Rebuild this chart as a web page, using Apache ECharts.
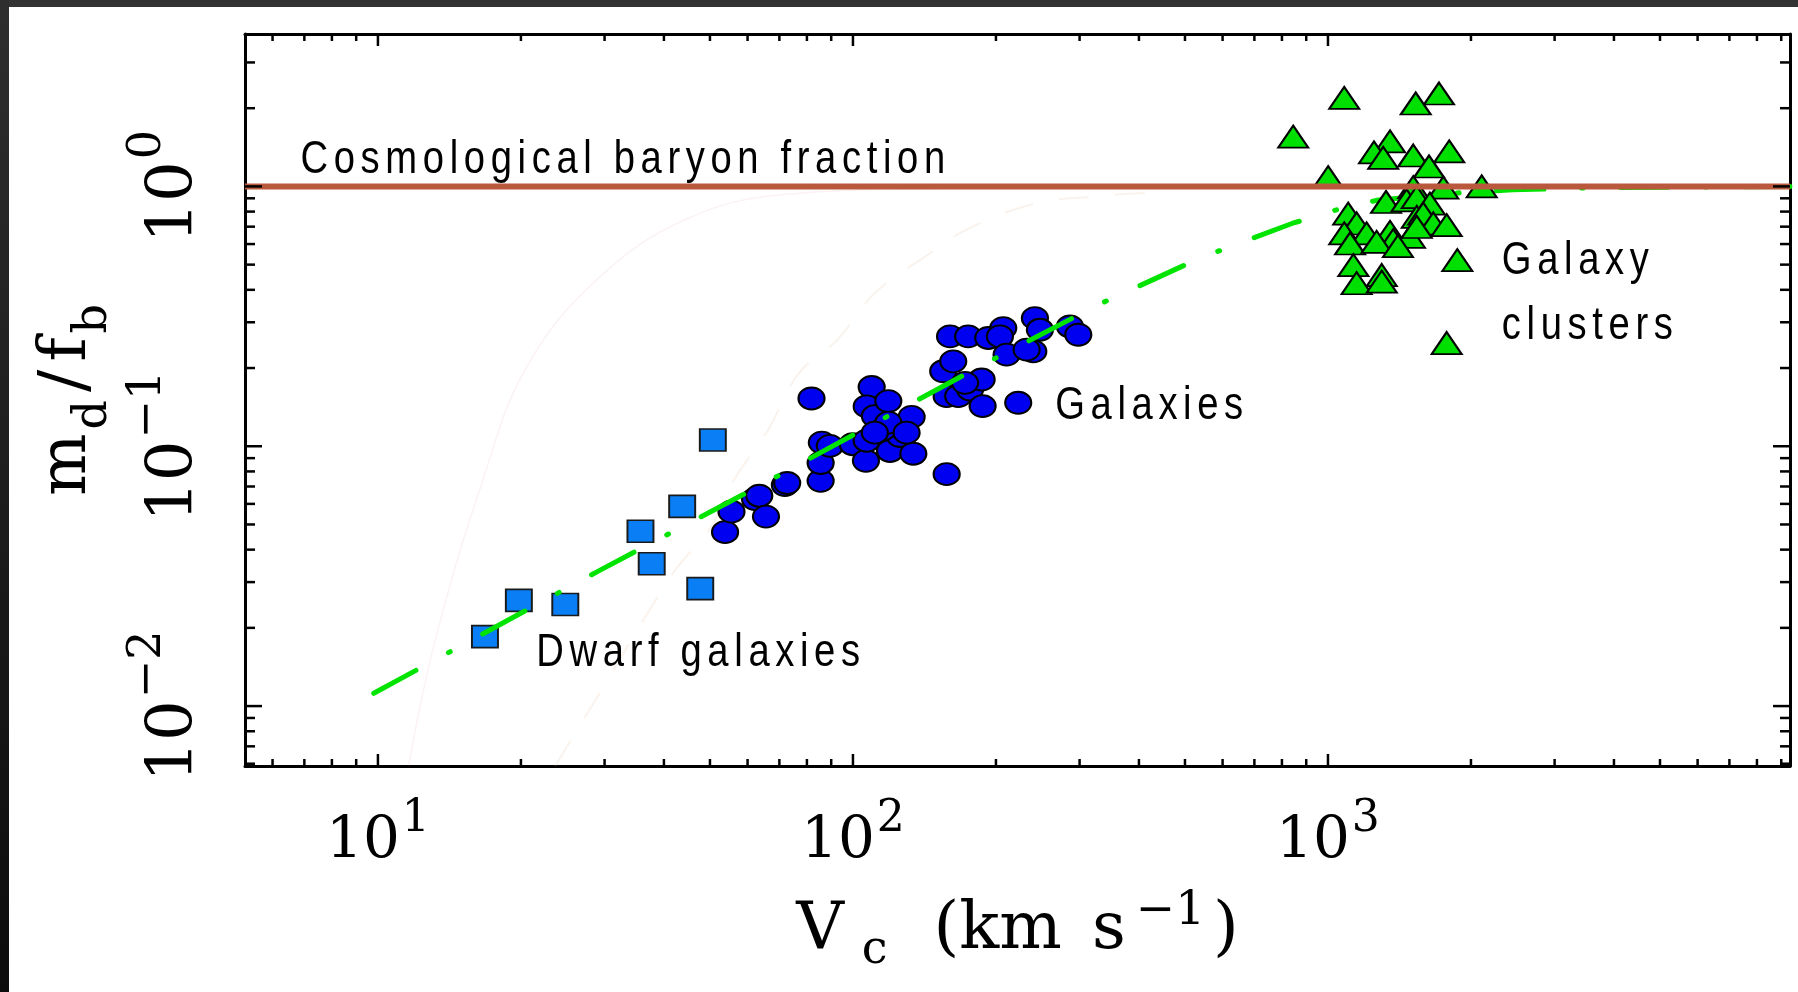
<!DOCTYPE html>
<html>
<head>
<meta charset="utf-8">
<title>Disc mass fraction versus circular velocity</title>
<script src="https://cdn.jsdelivr.net/npm/echarts@6/dist/echarts.min.js"></script>
<style>
  html, body { margin: 0; padding: 0; background: #ffffff; }
  #chart { width: 1798px; height: 992px; }
</style>
</head>
<body>
<div id="chart"></div>
<script>
// ---- axis ranges and ticks -------------------------------------------
const xExtent = [5.25, 9390];
const yExtent = [0.00588, 3.86];

const xMajorTicks = [10, 100, 1000];
const xMinorTicks = [6, 7, 8, 9, 20, 30, 40, 50, 60, 70, 80, 90,
  200, 300, 400, 500, 600, 700, 800, 900, 2000, 3000, 4000, 5000, 6000, 7000, 8000, 9000];
const yMajorTicks = [0.01, 0.1, 1];
const yMinorTicks = [0.006, 0.007, 0.008, 0.009, 0.02, 0.03, 0.04, 0.05, 0.06, 0.07, 0.08, 0.09,
  0.2, 0.3, 0.4, 0.5, 0.6, 0.7, 0.8, 0.9, 2, 3];

// ---- observations: [V_c (km/s), m_d/f_b] ------------------------------
const dwarfGalaxies = [
  [16.8, 0.0185], [19.8, 0.0255], [24.8, 0.0246], [35.7, 0.0471],
  [37.7, 0.0353], [43.7, 0.0587], [47.7, 0.0283], [50.7, 0.1057]
];

const galaxies = [
  [53.8, 0.0467], [55.5, 0.0560], [62.2, 0.0626], [63.5, 0.0645], [65.6, 0.0536],
  [71.9, 0.0709], [72.7, 0.0722], [85.5, 0.0736], [85.5, 0.0862], [86.0, 0.1033],
  [89.4, 0.1003], [81.8, 0.1527], [99.9, 0.1018], [106.5, 0.0879], [106.9, 0.1050],
  [109.5, 0.169], [106.9, 0.1423], [111.2, 0.1306], [118.7, 0.1492], [119.7, 0.0959],
  [125.6, 0.1095], [134.0, 0.0936], [132.9, 0.1297], [115.7, 0.1162], [118.7, 0.1233],
  [129.7, 0.1128], [111.2, 0.1128], [157.5, 0.0781],
  [154.9, 0.1943], [162.6, 0.2122], [157.5, 0.1559], [166.6, 0.1559], [176.4, 0.1654],
  [186.6, 0.1806], [187.5, 0.1427], [172.2, 0.1754], [160.1, 0.2647], [174.8, 0.2647],
  [192.7, 0.261], [207.2, 0.2849], [203.9, 0.2647], [210.6, 0.2251], [222.8, 0.147],
  [239.7, 0.2318], [232.1, 0.2353], [241.6, 0.3112], [247.5, 0.2807], [286.3, 0.289],
  [298.1, 0.2686]
];

const galaxyClusters = [
  [1082, 2.193], [1713, 2.278], [1530, 2.085], [845, 1.555], [1351, 1.491],
  [1250, 1.353], [1307, 1.288], [1512, 1.315], [1800, 1.365], [1632, 1.193],
  [1001, 1.085], [1749, 0.989], [2107, 1.0], [1512, 0.994], [1325, 0.871],
  [1464, 0.884], [1538, 0.910], [1639, 0.859], [1103, 0.786], [1149, 0.720],
  [1082, 0.659], [1206, 0.659], [1113, 0.603], [1351, 0.668], [1372, 0.621],
  [1488, 0.639], [1538, 0.763], [1587, 0.786], [1666, 0.720], [1778, 0.709],
  [1538, 0.698], [1131, 0.498], [1298, 0.456], [1149, 0.424], [1298, 0.430],
  [1872, 0.520], [1778, 0.2496], [1266, 0.612], [1404, 0.589]
];

// cosmological baryon fraction (m_d/f_b = 1)
const baryonFraction = 1;

// model relation drawn dash-dot
const modelCurve = [
  [9.8, 0.0112], [14.2, 0.0162], [29.3, 0.0333], [63.7, 0.0705], [106.9, 0.118],
  [185, 0.203], [328, 0.35], [538, 0.53], [840, 0.72], [1050, 0.816], [1266, 0.884],
  [1806, 0.94], [2448, 0.971], [3740, 0.99], [9390, 1.0]
];

// two very faint background traces
const faintCurveA = [
  [11.6, 0.00588], [13.2, 0.0179], [16.6, 0.0734], [20.6, 0.203], [29.3, 0.448],
  [45, 0.754], [71.6, 0.93], [155, 0.98], [300, 0.99]
];
const faintCurveB = [
  [23.6, 0.00588], [27.3, 0.00907], [41.9, 0.0326], [50.3, 0.049], [56.2, 0.0743],
  [66.3, 0.1158], [77.1, 0.192], [92.7, 0.257], [111.4, 0.39], [141.9, 0.537],
  [174, 0.683], [238, 0.852], [322, 0.915], [441, 0.948]
];

// text annotations anchored in data space (left edge, vertical middle)
const annotations = [
  { text: 'Cosmological baryon fraction', at: [6.87, 1.26] },
  { text: 'Galaxies', at: [266.5, 0.142] },
  { text: 'Galaxy', at: [2323, 0.514] },
  { text: 'clusters', at: [2323, 0.289] },
  { text: 'Dwarf galaxies', at: [21.55, 0.0159] }
];

// ---- text rendering: sans annotations get a little tracking ----------
const canTrack = typeof CanvasRenderingContext2D !== 'undefined' &&
  'letterSpacing' in CanvasRenderingContext2D.prototype;
if (canTrack) {
  const baseFillText = CanvasRenderingContext2D.prototype.fillText;
  CanvasRenderingContext2D.prototype.fillText = function (text, x, y, maxWidth) {
    const tracked = this.font.indexOf('Liberation Sans') >= 0;
    const prev = this.letterSpacing;
    if (tracked) this.letterSpacing = '6.8px';
    const r = maxWidth === undefined
      ? baseFillText.call(this, text, x, y)
      : baseFillText.call(this, text, x, y, maxWidth);
    if (tracked) this.letterSpacing = prev;
    return r;
  };
}

const SERIF = '"DejaVu Serif", "Liberation Serif", serif';

function powerLabel(v) {
  const e = Math.round(Math.log10(v));
  if (Math.abs(v / Math.pow(10, e) - 1) > 1e-6) return '';
  return '{b|10}{s|' + (e < 0 ? '\u2212' + (-e) : String(e)) + '}';
}

function labelRich(base, sup, lift) {
  return {
    b: { fontFamily: SERIF, fontSize: base, lineHeight: base, padding: [lift, 0, 0, 0],
         verticalAlign: 'top', color: '#000' },
    s: { fontFamily: SERIF, fontSize: sup, lineHeight: sup, padding: [0, 0, 0, 2],
         verticalAlign: 'top', color: '#000' }
  };
}

function serifToken(size, padding) {
  return { fontFamily: SERIF, fontSize: size, lineHeight: size, padding: padding,
           verticalAlign: 'top', color: '#000' };
}

const frameLine = { show: true, onZero: false, lineStyle: { color: '#000', width: 3 } };

function tickSeries(values, dim, len) {
  return {
    type: 'custom',
    xAxisIndex: 0,
    yAxisIndex: 0,
    silent: true,
    clip: false,
    z: 6,
    dimensions: ['x', 'y'],
    encode: { x: 0, y: 1 },
    data: values.map(v => (dim === 'x' ? [v, 1] : [10, v])),
    renderItem: function (params, api) {
      const cs = params.coordSys;
      const p = api.coord([api.value(0), api.value(1)]);
      const style = { stroke: '#000', lineWidth: 2.5 };
      let a, b;
      if (dim === 'x') {
        const yb = cs.y + cs.height, yt = cs.y;
        a = { x1: p[0], y1: yb, x2: p[0], y2: yb - len };
        b = { x1: p[0], y1: yt, x2: p[0], y2: yt + len };
      } else {
        const xl = cs.x, xr = cs.x + cs.width;
        a = { x1: xl, y1: p[1], x2: xl + len, y2: p[1] };
        b = { x1: xr, y1: p[1], x2: xr - len, y2: p[1] };
      }
      return { type: 'group', children: [
        { type: 'line', shape: a, style: style },
        { type: 'line', shape: b, style: style }
      ] };
    }
  };
}

const option = {
  animation: false,
  backgroundColor: '#ffffff',
  grid: { left: 245, right: 8, top: 34, bottom: 226, containLabel: false },
  xAxis: [
    {
      type: 'log', logBase: 10, min: xExtent[0], max: xExtent[1], position: 'bottom',
      axisLine: frameLine, axisTick: { show: false }, minorTick: { show: false },
      splitLine: { show: false },
      axisLabel: { margin: 32, formatter: powerLabel, rich: labelRich(58, 44, 15) },
      name: '{v|V}{c|c}{t|(km}{u|s}{e|\u22121}{v|)}',
      nameLocation: 'middle',
      nameGap: 122,
      nameTextStyle: {
        rich: {
          v: serifToken(66, [10, 0, 0, 0]),
          c: serifToken(46, [40, 46, 0, 18]),
          t: serifToken(66, [10, 30, 0, 0]),
          u: serifToken(66, [10, 10, 0, 0]),
          e: serifToken(47, [0, 8, 0, 0])
        }
      }
    },
    {
      type: 'log', logBase: 10, min: xExtent[0], max: xExtent[1], position: 'top',
      axisLine: frameLine, axisTick: { show: false }, minorTick: { show: false },
      splitLine: { show: false }, axisLabel: { show: false }
    }
  ],
  yAxis: [
    {
      type: 'log', logBase: 10, min: yExtent[0], max: yExtent[1], position: 'left',
      axisLine: frameLine, axisTick: { show: false }, minorTick: { show: false },
      splitLine: { show: false },
      axisLabel: { rotate: 90, margin: 56, formatter: powerLabel, rich: labelRich(64, 46, 18) },
      name: '{a|m}{s|d}{a|/}{a|f}{s|b}',
      nameLocation: 'middle',
      nameGap: 141,
      nameTextStyle: {
        rich: {
          a: serifToken(66, [0, 4, 0, 4]),
          s: serifToken(46, [36, 4, 0, 0])
        }
      }
    },
    {
      type: 'log', logBase: 10, min: yExtent[0], max: yExtent[1], position: 'right',
      axisLine: frameLine, axisTick: { show: false }, minorTick: { show: false },
      splitLine: { show: false }, axisLabel: { show: false }
    }
  ],
  graphic: [
    { type: 'rect', z: 100, shape: { x: 0, y: 0, width: 1798, height: 7 }, style: { fill: '#333333' } },
    { type: 'rect', z: 100, shape: { x: 0, y: 0, width: 9, height: 992 },
      style: { fill: new echarts.graphic.LinearGradient(0, 0, 0, 1, [
        { offset: 0, color: '#2e2e2e' }, { offset: 1, color: '#0c0c0c' }]) } }
  ],
  series: [
    {
      name: 'trace A', type: 'line', data: faintCurveA, smooth: 0.4, showSymbol: false,
      silent: true, z: 1, lineStyle: { color: 'rgba(225,150,150,0.12)', width: 1.5 }
    },
    {
      name: 'trace B', type: 'line', data: faintCurveB, smooth: 0.4, showSymbol: false,
      silent: true, z: 1, lineStyle: { color: 'rgba(230,195,165,0.2)', width: 2, type: [30, 26] }
    },
    {
      name: 'Dwarf galaxies', type: 'scatter', data: dwarfGalaxies, z: 2,
      symbol: 'rect', symbolSize: [26, 22],
      itemStyle: { color: '#0a7ff5', borderColor: '#1a1a1a', borderWidth: 1.8, opacity: 1 }
    },
    {
      name: 'Galaxies', type: 'scatter', data: galaxies, z: 2,
      symbol: 'circle', symbolSize: [26, 22],
      itemStyle: { color: '#0000f0', borderColor: '#000', borderWidth: 2, opacity: 1 }
    },
    {
      name: 'Model', type: 'line', data: modelCurve, smooth: false,
      showSymbol: false, silent: true, z: 3,
      lineStyle: { color: '#00e400', width: 5, type: [48, 37, 2, 37], cap: 'round', join: 'round' }
    },
    {
      name: 'Galaxy clusters', type: 'scatter', data: galaxyClusters, z: 4,
      symbol: 'triangle', symbolSize: [30, 22],
      itemStyle: { color: '#00e000', borderColor: '#000', borderWidth: 2, opacity: 1 }
    },
    {
      name: 'Cosmological baryon fraction', type: 'line', z: 5,
      data: [[xExtent[0], baryonFraction], [xExtent[1], baryonFraction]],
      showSymbol: false, silent: true,
      lineStyle: { color: '#b9583c', width: 6 }
    },
    tickSeries(xMajorTicks, 'x', 12),
    tickSeries(xMinorTicks, 'x', 7),
    tickSeries(yMajorTicks, 'y', 17),
    tickSeries(yMinorTicks, 'y', 10)
  ]
};

const chart = echarts.init(document.getElementById('chart'), null,
  { renderer: 'canvas', width: 1798, height: 992 });
chart.setOption(option);

// annotation text placed through the grid's own scales
const annotationGraphics = annotations.map(a => {
  const p = chart.convertToPixel({ xAxisIndex: 0, yAxisIndex: 0 }, a.at);
  return {
    type: 'text', z: 50, x: p[0], y: p[1], scaleX: canTrack ? 0.83 : 1.08, scaleY: 1,
    style: {
      text: a.text, fill: '#000', fontFamily: 'Liberation Sans', fontSize: 46,
      align: 'left', verticalAlign: 'middle'
    }
  };
});
chart.setOption({ graphic: option.graphic.concat(annotationGraphics) });
</script>
</body>
</html>
